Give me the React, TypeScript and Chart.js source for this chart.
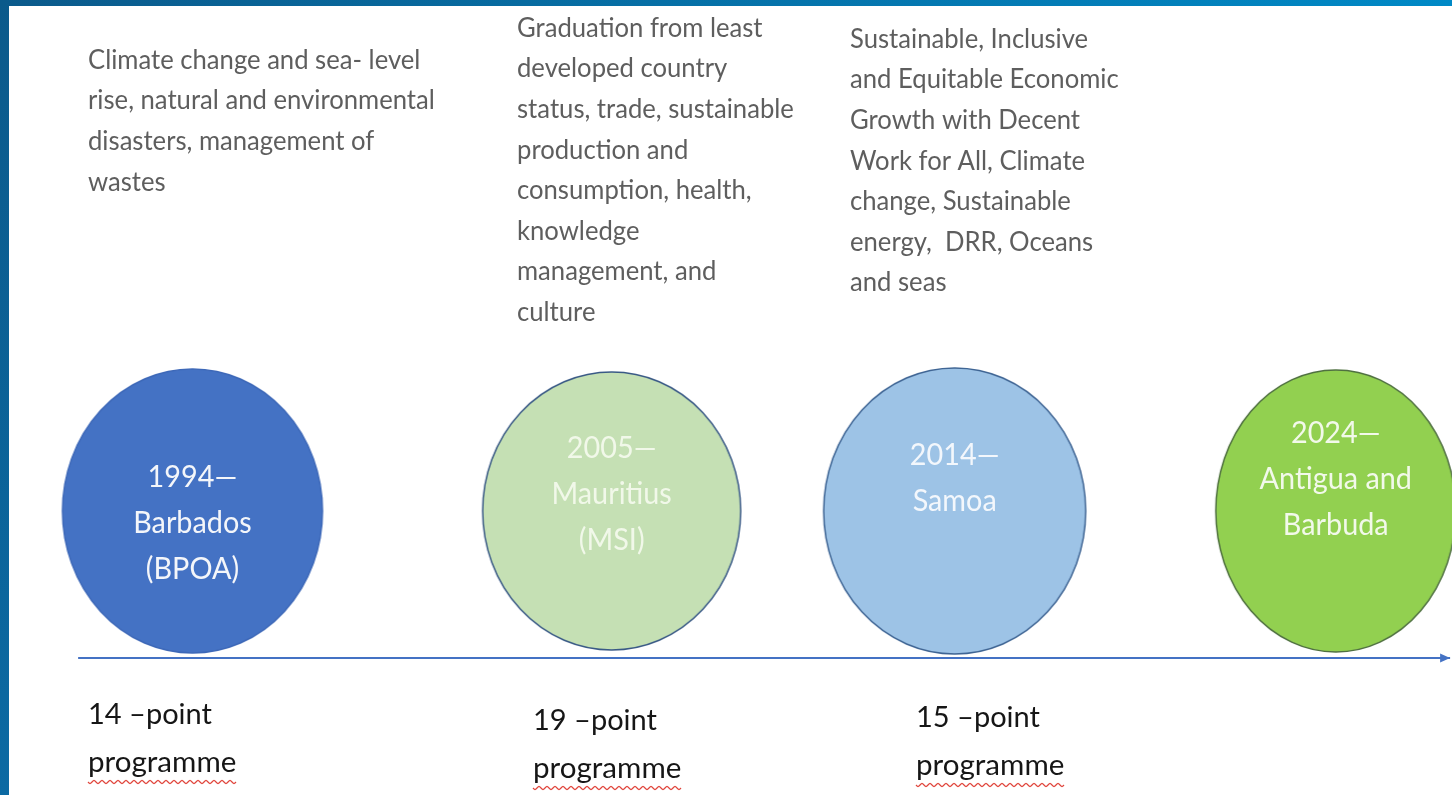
import React, { useEffect, useRef } from "react";
import { Chart, registerables } from "chart.js";

Chart.register(...registerables);

// ---------------- data ----------------
const eventYears = [1994, 2005, 2014, 2024];
const eventTitles = [
  ["1994—", "Barbados", "(BPOA)"],
  ["2005—", "Mauritius", "(MSI)"],
  ["2014—", "Samoa"],
  ["2024—", "Antigua and", "Barbuda"],
];
const eventThemes = [
  [
    "Climate change and sea- level",
    "rise, natural and environmental",
    "disasters, management of",
    "wastes",
  ],
  [
    "Graduation from least",
    "developed country",
    "status, trade, sustainable",
    "production and",
    "consumption, health,",
    "knowledge",
    "management, and",
    "culture",
  ],
  [
    "Sustainable, Inclusive",
    "and Equitable Economic",
    "Growth with Decent",
    "Work for All, Climate",
    "change, Sustainable",
    "energy,  DRR, Oceans",
    "and seas",
  ],
];
const programmeLabels = ["14 –point", "19 –point", "15 –point"];
const programmeWord = "programme";
const timelineStart = 1991;
const timelineEnd = 2027;
const eventLevel = 1;
const axisLevel = 0;

// ---------------- styles / layout ----------------
const circleFill = ["#4472c4", "#c5e0b4", "#9dc3e6", "#92d050"];
const circleStroke = ["#3d68b8", "#3a5a86", "#3f6594", "#4f7040"];
const circleRX = [130, 129, 131, 120];
const circleRY = [142, 139, 143, 141];
const titleColor = ["#f4f6fa", "#f1f8e9", "#f3f7fc", "#f2f9ea"];
const titleMidY = [523, 494, 478, 479];
const titleGap = 46;
const themeLeft = [88, 517, 850];
const themeTop = [60, 28, 39];
const themeGap = 40.6;
const progLeft = [88, 533, 916];
const progTop = [715, 721, 718];
const progGap = 48;

const W = 1452;
const H = 795;

function makeEllipse(i: number): HTMLCanvasElement {
  const rx = circleRX[i];
  const ry = circleRY[i];
  const c = document.createElement("canvas");
  c.width = rx * 2 + 4;
  c.height = ry * 2 + 4;
  const g = c.getContext("2d")!;
  g.beginPath();
  g.ellipse(c.width / 2, c.height / 2, rx, ry, 0, 0, Math.PI * 2);
  g.fillStyle = circleFill[i];
  g.fill();
  g.lineWidth = 1.5;
  g.strokeStyle = circleStroke[i];
  g.stroke();
  return c;
}

function drawText(
  ctx: CanvasRenderingContext2D,
  text: string,
  x: number,
  y: number,
  font: string,
  color: string,
  sx: number,
  align: CanvasTextAlign
) {
  ctx.save();
  ctx.translate(x, y);
  ctx.scale(sx, 1);
  ctx.font = font;
  ctx.fillStyle = color;
  ctx.textAlign = align;
  ctx.textBaseline = "middle";
  ctx.fillText(text, 0, 0);
  const w = ctx.measureText(text).width * sx;
  ctx.restore();
  return w;
}

const framePlugin = {
  id: "frame",
  beforeDraw(chart: any) {
    const ctx = chart.ctx as CanvasRenderingContext2D;
    ctx.save();
    ctx.fillStyle = "#ffffff";
    ctx.fillRect(0, 0, W, H);
    const gTop = ctx.createLinearGradient(0, 0, W, 0);
    gTop.addColorStop(0, "#0b5a8b");
    gTop.addColorStop(1, "#0089c6");
    ctx.fillStyle = gTop;
    ctx.fillRect(0, 0, W, 6);
    const gLeft = ctx.createLinearGradient(0, 0, 0, H);
    gLeft.addColorStop(0, "#0b5a8b");
    gLeft.addColorStop(1, "#0c6aa3");
    ctx.fillStyle = gLeft;
    ctx.fillRect(0, 0, 9, H);
    ctx.restore();
  },
};

const labelPlugin = {
  id: "labels",
  afterDatasetsDraw(chart: any) {
    const ctx = chart.ctx as CanvasRenderingContext2D;
    // arrow head at end of the axis line
    const lineMeta = chart.getDatasetMeta(1);
    const pts = lineMeta.data;
    if (pts.length >= 2) {
      const a = pts[pts.length - 2];
      const b = pts[pts.length - 1];
      const ang = Math.atan2(b.y - a.y, b.x - a.x);
      ctx.save();
      ctx.translate(b.x, b.y);
      ctx.rotate(ang);
      ctx.beginPath();
      ctx.moveTo(0, 0);
      ctx.lineTo(-10, -4.5);
      ctx.lineTo(-10, 4.5);
      ctx.closePath();
      ctx.fillStyle = "#4472c4";
      ctx.fill();
      ctx.restore();
    }

    const meta = chart.getDatasetMeta(0);
    const titleFont = "30px Lato";
    meta.data.forEach((el: any, i: number) => {
      const lines = eventTitles[i];
      const n = lines.length;
      lines.forEach((t, k) => {
        const y = titleMidY[i] + (k - (n - 1) / 2) * titleGap;
        drawText(ctx, t, el.x, y, titleFont, titleColor[i], 0.96, "center");
      });
    });

    const themeFont = "27px Lato";
    eventThemes.forEach((lines, i) => {
      lines.forEach((t, k) => {
        drawText(ctx, t, themeLeft[i], themeTop[i] + k * themeGap, themeFont, "#5e5e5e", 0.95, "left");
      });
    });

    const progFont = "29px Lato";
    programmeLabels.forEach((t, i) => {
      drawText(ctx, t, progLeft[i], progTop[i], progFont, "#161616", 1, "left");
      const y2 = progTop[i] + progGap;
      const w = drawText(ctx, programmeWord, progLeft[i], y2, progFont, "#161616", 1.02, "left");
      // spell-check squiggle
      ctx.save();
      ctx.strokeStyle = "#e0453c";
      ctx.lineWidth = 1.2;
      ctx.beginPath();
      const sy = y2 + 19;
      for (let x = 0; x <= w; x += 1) {
        const yy = sy + Math.sin((x / 4) * Math.PI) * 1.6;
        if (x === 0) ctx.moveTo(progLeft[i] + x, yy);
        else ctx.lineTo(progLeft[i] + x, yy);
      }
      ctx.stroke();
      ctx.restore();
    });
  },
};

export default function App() {
  const ref = useRef<HTMLCanvasElement | null>(null);
  useEffect(() => {
    document.body.style.margin = "0";
    const canvas = ref.current!;
    const images = eventYears.map((_, i) => makeEllipse(i));
    const chart = new Chart(canvas, {
      type: "scatter",
      data: {
        datasets: [
          {
            label: "events",
            data: eventYears.map((y) => ({ x: y, y: eventLevel })),
            pointStyle: images as any,
            pointRadius: 10,
            order: 1,
          } as any,
          {
            type: "line",
            label: "timeline",
            data: [
              { x: timelineStart, y: axisLevel },
              { x: timelineEnd, y: axisLevel },
            ],
            borderColor: "#4472c4",
            borderWidth: 2,
            pointRadius: 0,
            showLine: true,
            order: 2,
          } as any,
        ],
      },
      options: {
        animation: false,
        responsive: false,
        devicePixelRatio: 1,
        layout: { padding: 0, autoPadding: false },
        plugins: {
          legend: { display: false },
          tooltip: { enabled: false },
          title: { display: false },
        },
        events: [],
        scales: {
          x: { type: "linear", min: 1988.95, max: 2027.05, display: false },
          y: { type: "linear", min: -0.932, max: 4.476, display: false },
        },
      } as any,
      plugins: [framePlugin, labelPlugin],
    });
    return () => chart.destroy();
  }, []);
  return (
    <div style={{ position: "fixed", left: 0, top: 0, width: W, height: H }}>
      <canvas ref={ref} width={W} height={H} style={{ width: W, height: H, display: "block" }} />
    </div>
  );
}
